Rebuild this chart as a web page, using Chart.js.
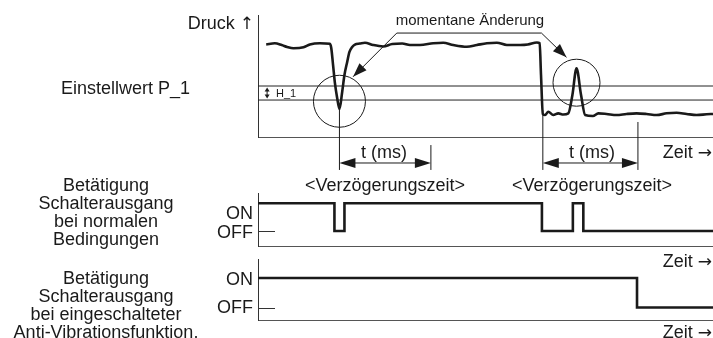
<!DOCTYPE html>
<html lang="de">
<head>
<meta charset="UTF-8">
<title>Anti-Vibrationsfunktion</title>
<script src="https://cdn.jsdelivr.net/npm/chart.js@4.4.0/dist/chart.umd.min.js"></script>
<style>
    body { margin: 0; background: #fff; }
    #main {
        position: relative;
        width: 713px;
        height: 338px;
        overflow: hidden;
        font-family: "Liberation Sans", Arial, sans-serif;
        color: #1a1a1a;
    }
    #main canvas { position: absolute; left: 0; top: 0; }
    .lbl {
        position: absolute;
        white-space: nowrap;
        font-size: 18px;
        line-height: 18px;
        transform: translate(-50%, -50%);
        text-align: center;
    }
    .r { transform: translate(-100%, -50%); }
    .l { transform: translate(0, -50%); }
    .arr { font-family: "DejaVu Sans", sans-serif; font-size: 17px; }
</style>
</head>
<body>
<div id="main">
    <canvas id="druck" width="713" height="338"></canvas>
    <canvas id="normal" width="713" height="338"></canvas>
    <canvas id="antivib" width="713" height="338"></canvas>

    <!-- Beschriftungen -->
    <div class="lbl r" style="left:254px; top:23px">Druck <span class="arr">↑</span></div>
    <div class="lbl" style="left:470px; top:20px; font-size:15px">momentane Änderung</div>
    <div class="lbl l" style="left:61px; top:88px">Einstellwert P_1</div>
    <div class="lbl l" style="left:276px; top:93px; font-size:11px">H_1</div>
    <div class="lbl" style="left:384px; top:152px">t (ms)</div>
    <div class="lbl" style="left:592px; top:152px">t (ms)</div>
    <div class="lbl r" style="left:712px; top:152px">Zeit <span class="arr">→</span></div>
    <div class="lbl" style="left:385px; top:185px">&lt;Verzögerungszeit&gt;</div>
    <div class="lbl" style="left:592px; top:185px">&lt;Verzögerungszeit&gt;</div>

    <div class="lbl" style="left:106px; top:212px">Betätigung<br>Schalterausgang<br>bei normalen<br>Bedingungen</div>
    <div class="lbl r" style="left:253px; top:213px">ON</div>
    <div class="lbl r" style="left:253px; top:232px">OFF</div>
    <div class="lbl r" style="left:712px; top:261px">Zeit <span class="arr">→</span></div>

    <div class="lbl" style="left:106px; top:305px">Betätigung<br>Schalterausgang<br>bei eingeschalteter<br>Anti-Vibrationsfunktion.</div>
    <div class="lbl r" style="left:253px; top:279px">ON</div>
    <div class="lbl r" style="left:253px; top:307px">OFF</div>
    <div class="lbl r" style="left:712px; top:332px">Zeit <span class="arr">→</span></div>
</div>
<script>
    // Zeitachse 0..100 (willkuerliche Einheiten), Druck 0..100 %
    const pressureTime = [1.8, 3.7, 5.2, 6.4, 7.8, 10.0, 11.4, 13.6, 15.8, 16.1, 16.5, 16.9, 17.4, 17.9, 18.5,
        19.0, 19.6, 20.1, 20.7, 21.3, 22.4, 23.5, 25.3, 27.5, 29.5, 31.7, 33.4, 35.6, 38.5, 40.7, 42.9,
        45.9, 48.1, 50.3, 52.5, 54.7, 57.6, 59.3, 61.3, 61.9, 62.2, 62.6, 63.1, 63.8, 64.9, 66.0, 67.1,
        68.2, 69.1, 70.0, 71.0, 71.9, 73.6, 74.8, 76.6, 78.8, 81.0, 83.2, 85.4, 87.6, 89.8, 92.0, 94.2,
        96.4, 98.6, 100];
    const pressureValue = [75.8, 76.8, 75.4, 73.8, 72.7, 73.5, 75.8, 76.8, 76.4, 73.0, 59.0, 44.3, 32.0, 23.0, 36.9,
        50.8, 61.5, 69.7, 73.8, 75.8, 76.6, 77.3, 75.4, 74.2, 76.2, 76.6, 75.4, 75.4, 76.8, 77.3, 75.4,
        74.0, 75.4, 76.8, 77.3, 75.4, 75.4, 75.8, 77.5, 77.0, 50.8, 18.9, 18.0, 20.7, 18.0, 19.4, 18.4,
        19.3, 34.4, 56.3, 34.4, 18.0, 17.2, 19.4, 18.9, 18.0, 18.9, 19.4, 18.9, 18.0, 19.4, 19.9, 18.9,
        18.0, 18.6, 18.9];

    // Einstellwert P_1 und Hysterese H_1
    const setpointP1 = 41.8;
    const hysteresisH1 = 11.5;

    // momentane Aenderungen (Einbruch, Spitze) und Verzoegerungszeit
    const eventTime = [17.9, 62.6];
    const eventLevel = [23.0, 22.0];
    const delayEnd = [38.0, 83.5];
    const delayTop = [-6.6, 12.3];
    const ringTime = [17.9, 70.0];
    const ringLevel = [29.3, 44.5];

    // Schaltausgang: Zeitpunkte und Zustand (1 = ON, 0 = OFF)
    const normalTime = [0, 16.8, 19.0, 62.4, 69.2, 71.5, 100];
    const normalState = [1, 0, 1, 0, 1, 0, 0];
    const antiVibTime = [0, 83.3, 100];
    const antiVibState = [1, 0, 0];

    const ink = '#1a1a1a';

    function points(xs, ys) {
        return xs.map((x, i) => ({x: x, y: ys[i]}));
    }

    function arrowHead(ctx, x0, y0, x1, y1, len, half) {
        const a = Math.atan2(y1 - y0, x1 - x0);
        ctx.beginPath();
        ctx.moveTo(x1, y1);
        ctx.lineTo(x1 - len * Math.cos(a) + half * Math.sin(a), y1 - len * Math.sin(a) - half * Math.cos(a));
        ctx.lineTo(x1 - len * Math.cos(a) - half * Math.sin(a), y1 - len * Math.sin(a) + half * Math.cos(a));
        ctx.closePath();
        ctx.fill();
    }

    function line(ctx, x0, y0, x1, y1) {
        ctx.beginPath();
        ctx.moveTo(x0, y0);
        ctx.lineTo(x1, y1);
        ctx.stroke();
    }

    function baseOptions(pad, yMin, yMax) {
        return {
            responsive: false,
            animation: false,
            events: [],
            layout: {padding: pad},
            plugins: {legend: {display: false}, tooltip: {enabled: false}},
            elements: {point: {radius: 0}},
            scales: {
                x: {
                    type: 'linear', min: 0, max: 100,
                    ticks: {display: false},
                    grid: {display: false, drawTicks: false},
                    border: {color: '#555', width: 1}
                },
                y: {
                    min: yMin, max: yMax,
                    ticks: {display: false},
                    grid: {display: false, drawTicks: false},
                    border: {color: '#333', width: 1}
                }
            }
        };
    }

    // Kreise, Pfeile, Hilfslinien im Druckdiagramm
    const druckMarks = {
        id: 'druckMarks',
        afterDatasetsDraw(chart) {
            const {ctx, scales: {x, y}} = chart;
            const px = v => x.getPixelForValue(v);
            const py = v => y.getPixelForValue(v);
            ctx.save();
            ctx.strokeStyle = ink;
            ctx.fillStyle = ink;
            ctx.lineWidth = 1;

            // Kreise um die Aenderungen
            const radius = [26, 23.5];
            ringTime.forEach((t, i) => {
                ctx.beginPath();
                ctx.arc(px(t), py(ringLevel[i]), radius[i], 0, 2 * Math.PI);
                ctx.stroke();
            });

            // Hinweislinie "momentane Aenderung"
            const uy = py(85.2);
            line(ctx, px(30.5), uy, px(62.3), uy);
            line(ctx, px(30.5), uy, px(20.9), py(49.4));
            arrowHead(ctx, px(30.5), uy, px(20.9), py(49.4), 14, 5);
            line(ctx, px(62.3), uy, px(67.8), py(65.3));
            arrowHead(ctx, px(62.3), uy, px(67.8), py(65.3), 14, 5);

            // Verzoegerungszeit t (ms)
            const bottom = py(-27);
            const ay = py(-21.3);
            eventTime.forEach((t, i) => {
                line(ctx, px(t), py(eventLevel[i]), px(t), bottom);
                line(ctx, px(delayEnd[i]), py(delayTop[i]), px(delayEnd[i]), bottom);
                line(ctx, px(t) + 10, ay, px(delayEnd[i]) - 10, ay);
                arrowHead(ctx, px(delayEnd[i]), ay, px(t), ay, 16, 5);
                arrowHead(ctx, px(t), ay, px(delayEnd[i]), ay, 16, 5);
            });

            // Hysterese-Markierung
            const hx = px(2);
            const top = py(setpointP1) + 1.5, low = py(setpointP1 - hysteresisH1) - 1.5;
            line(ctx, hx, top + 3, hx, low - 3);
            arrowHead(ctx, hx, low, hx, top, 4, 2.5);
            arrowHead(ctx, hx, top, hx, low, 4, 2.5);
            ctx.restore();
        }
    };

    // kurze OFF-Markierung an der y-Achse
    const offTick = {
        id: 'offTick',
        afterDatasetsDraw(chart) {
            const {ctx, chartArea, scales: {y}} = chart;
            const yy = Math.round(y.getPixelForValue(0)) + 0.5;
            ctx.save();
            ctx.strokeStyle = '#333';
            ctx.lineWidth = 1;
            line(ctx, chartArea.left, yy, chartArea.left + 17, yy);
            ctx.restore();
        }
    };

    // Druckverlauf ---------------------------------------------------
    new Chart(document.getElementById('druck'), {
        type: 'line',
        data: {
            datasets: [{
                data: points(pressureTime, pressureValue),
                borderColor: ink,
                borderWidth: 2.6,
                cubicInterpolationMode: 'monotone'
            }, {
                data: points([0, 100], [setpointP1, setpointP1]),
                borderColor: '#222',
                borderWidth: 1
            }, {
                data: points([0, 100], [setpointP1 - hysteresisH1, setpointP1 - hysteresisH1]),
                borderColor: '#222',
                borderWidth: 1
            }]
        },
        options: baseOptions({left: 258, right: 0, top: 15, bottom: 201}, 0, 100),
        plugins: [druckMarks]
    });

    // Schaltausgang normal -------------------------------------------
    new Chart(document.getElementById('normal'), {
        type: 'line',
        data: {
            datasets: [{
                data: points(normalTime, normalState),
                borderColor: ink,
                borderWidth: 2.6,
                stepped: true,
                borderJoinStyle: 'miter'
            }]
        },
        options: baseOptions({left: 258, right: 0, top: 193, bottom: 92}, -0.54, 1.37),
        plugins: [offTick]
    });

    // Schaltausgang mit Anti-Vibrationsfunktion ----------------------
    new Chart(document.getElementById('antivib'), {
        type: 'line',
        data: {
            datasets: [{
                data: points(antiVibTime, antiVibState),
                borderColor: ink,
                borderWidth: 2.6,
                stepped: true,
                borderJoinStyle: 'miter'
            }]
        },
        options: baseOptions({left: 258, right: 0, top: 259, bottom: 18}, -0.42, 1.64),
        plugins: [offTick]
    });
</script>
</body>
</html>
